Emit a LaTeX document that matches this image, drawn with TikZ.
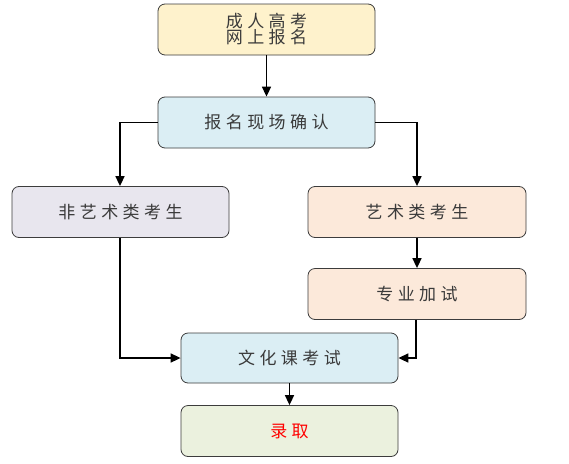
\documentclass[tikz,border=0pt]{standalone}
\usepackage{fontspec}
\setmainfont{Noto Sans CJK SC}[LetterSpace=26]
\usetikzlibrary{arrows.meta}
\definecolor{cYellow}{HTML}{FEF2CC}
\definecolor{cBlue}{HTML}{DBEEF4}
\definecolor{cLav}{HTML}{E8E6EE}
\definecolor{cPeach}{HTML}{FCE9DA}
\definecolor{cGreen}{HTML}{EBF1DE}
\definecolor{cText}{HTML}{3A3A3A}
\definecolor{cBorder}{HTML}{3C3C3C}
\begin{document}
\begin{tikzpicture}[x=1pt,y=-1pt,
  box/.style={draw=cBorder,line width=0.8pt,rounded corners=7pt,minimum width=217pt,minimum height=51pt,inner sep=0pt,align=center,text=cText,font=\fontsize{17}{16}\selectfont},
  conn/.style={line width=1.6pt,-{Triangle[length=10pt,width=9pt]}}]
\useasboundingbox (0,0) rectangle (569,463);
\fill[white] (0,0) rectangle (569,463);
\node[box,fill=cYellow] (bm) at (266.5,29.5) {成人高考\\网上报名};
\node[box,fill=cBlue] (qr) at (266.5,122.5) {报名现场确认};
\node[box,fill=cLav] (fy) at (120.5,212) {非艺术类考生};
\node[box,fill=cPeach,minimum width=218pt] (ys) at (417,212) {艺术类考生};
\node[box,fill=cPeach,minimum width=218pt] (zy) at (417,294) {专业加试};
\node[box,fill=cBlue,minimum height=50pt] (wh) at (289.5,358) {文化课考试};
\node[box,fill=cGreen,text=red] (lq) at (289.5,431) {录取};
\coordinate (c1) at (120,122.5);
\coordinate (c2) at (417,122.5);
\coordinate (c3) at (120,358);
\coordinate (c4) at (416,358);
\draw[conn] (bm.south) -- (qr.north);
\draw[conn] (qr.west) -- (c1) -- (fy.north -| c1);
\draw[conn] (qr.east) -- (c2) -- (ys.north);
\draw[conn] (ys.south) -- (zy.north);
\draw[conn] (fy.south -| c3) -- (c3) -- (wh.west);
\draw[conn] (zy.south -| c4) -- (c4) -- (wh.east);
\draw[conn] (wh.south) -- (lq.north);
\end{tikzpicture}
\end{document}
